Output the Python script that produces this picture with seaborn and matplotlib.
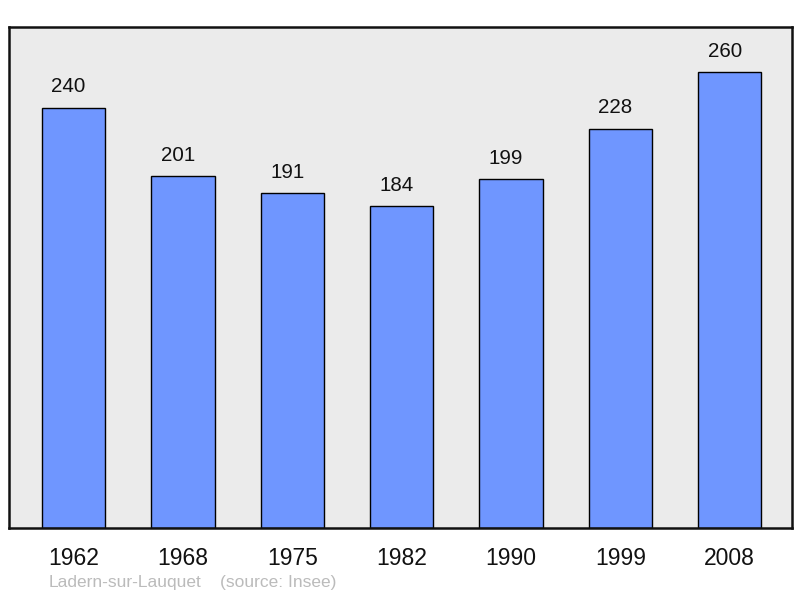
import matplotlib
matplotlib.use("Agg")
import matplotlib.pyplot as plt
import seaborn as sns
import pandas as pd

years = ["1962", "1968", "1975", "1982", "1990", "1999", "2008"]
population = [240, 201, 191, 184, 199, 228, 260]
footer_name = "Ladern-sur-Lauquet"
footer_source = "(source: Insee)"

df = pd.DataFrame({"year": years, "population": population})

sns.set_theme(style="white")
plt.rcParams["font.family"] = ["Liberation Sans", "DejaVu Sans"]

fig = plt.figure(figsize=(8, 5.98), dpi=100)
ax = fig.add_axes([0.01125, 0.117, 0.97875, 0.838])
ax.set_facecolor("#ebebeb")

sns.barplot(data=df, x="year", y="population", color="#6f96ff", saturation=1,
            width=0.58, edgecolor="black", linewidth=1.0, ax=ax)

for i, v in enumerate(population):
    ax.annotate(str(v), (i, v), xytext=(-3.6, 14.8), textcoords="offset points",
                ha="center", va="center", fontsize=14.8, color="#111111")

ax.set_xlim(-0.59, 6.57)
ax.set_ylim(0, 286)
ax.set_yticks([])
ax.set_xlabel("")
ax.set_ylabel("")
ax.tick_params(axis="x", length=0, pad=13.3, labelsize=16.5, labelcolor="#111111")
for s in ax.spines.values():
    s.set_visible(True)
    s.set_color("#111111")
    s.set_linewidth(1.8)

fig.text(49 / 800, 1 - 583 / 598, footer_name, fontsize=12.5, color="#bbbbbb",
         ha="left", va="center")
fig.text(220 / 800, 1 - 583 / 598, footer_source, fontsize=12.5, color="#bbbbbb",
         ha="left", va="center")

fig.savefig("out.png", dpi=100)
